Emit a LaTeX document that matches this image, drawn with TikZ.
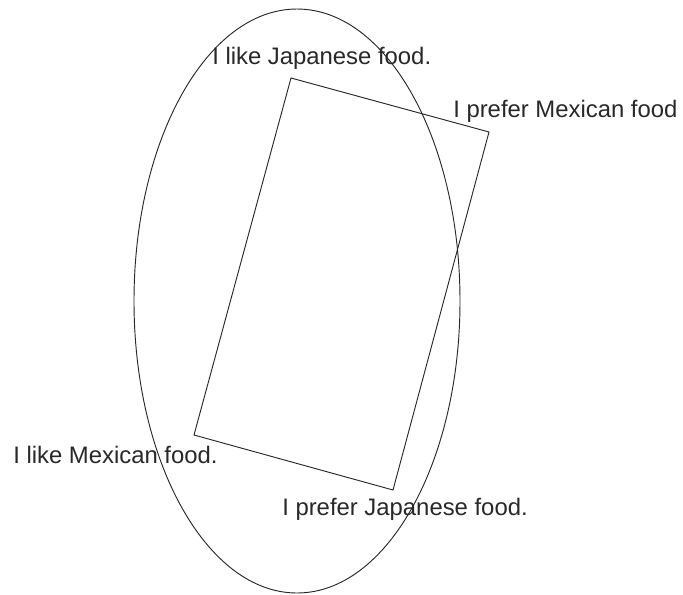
\documentclass[tikz,border=0pt]{standalone}
\usepackage{fontspec}
\setmainfont{Liberation Sans}
\usetikzlibrary{positioning}
\definecolor{ink}{RGB}{40,40,40}
\tikzset{
  outline/.style={draw=ink,line width=0.7pt},
  remark/.style={font=\fontsize{17.9}{20}\selectfont,text=ink,inner sep=0pt,anchor=base west},
}
\begin{document}
\begin{tikzpicture}[x=0.75pt,y=-0.75pt]
  \useasboundingbox (0,0) rectangle (683,594);
  % the ellipse
  \draw[outline] (297,301) ellipse [x radius=163,y radius=292];
  % the tilted frame
  \coordinate (top) at (291,78);
  \coordinate (right) at (489,132);
  \coordinate (bottom) at (393,490);
  \coordinate (left) at (194,435);
  \draw[outline] (top) -- (right) -- (bottom) -- (left) -- cycle;
  % the four sayings
  \node[remark] (likejp) at (212,64) {I like Japanese food.};
  \node[remark] (prefmx) at (453,117) {I prefer Mexican food};
  \node[remark] (likemx) at (13,463) {I like Mexican food.};
  \node[remark] (prefjp) at (282,515) {I prefer Japanese food.};
\end{tikzpicture}
\end{document}
